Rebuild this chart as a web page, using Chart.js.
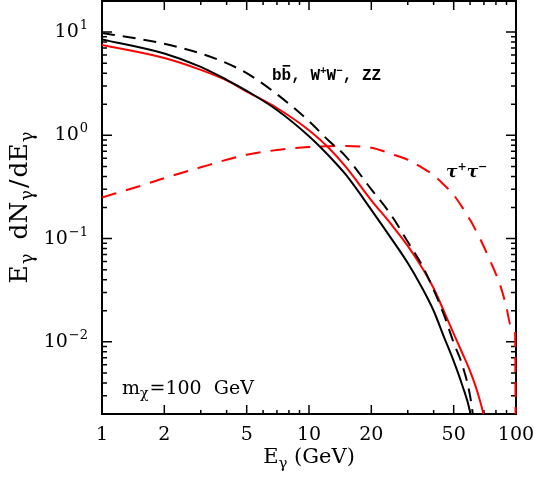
<!DOCTYPE html>
<html>
<head>
<meta charset="utf-8">
<script src="https://cdn.jsdelivr.net/npm/chart.js@4.4.1/dist/chart.umd.min.js"></script>
<style>
  html, body { margin: 0; padding: 0; background: #fff; }
</style>
</head>
<body>
<canvas id="myChart" width="534" height="478"></canvas>
<script>
const ctx = document.getElementById('myChart').getContext('2d');

// photon spectra E dN/dE for m_chi = 100 GeV
const bbE  = [1, 2, 3, 4, 5, 7, 10, 12.5, 15, 20, 25, 30, 35, 40, 45, 50, 55, 60, 63];
const bbN  = [8.5, 6.2, 4.6, 3.45, 2.7, 1.76, 0.98, 0.63, 0.42, 0.19, 0.1, 0.058, 0.034, 0.02, 0.011, 0.0065, 0.0038, 0.0021, 0.0011];

const wwE  = [1, 1.5, 2, 3, 4, 5, 7, 10, 12.5, 15, 20, 25, 30, 35, 40, 45, 50, 55, 60, 64];
const wwN  = [9.8, 8.6, 7.7, 6.2, 5.0, 4.0, 2.5, 1.37, 0.88, 0.63, 0.3, 0.168, 0.093, 0.056, 0.032, 0.018, 0.0098, 0.006, 0.003, 0.0012];

const zzE  = [1, 2, 3, 4, 5, 7, 10, 12.5, 15, 20, 25, 30, 35, 40, 45, 50, 55, 60, 65, 70, 73];
const zzN  = [7.5, 5.6, 4.3, 3.4, 2.65, 1.84, 1.12, 0.75, 0.5, 0.235, 0.137, 0.085, 0.053, 0.033, 0.0195, 0.012, 0.0078, 0.0052, 0.0033, 0.0019, 0.0012];

const tauE = [1, 1.5, 2, 3, 4, 5, 7, 10, 14, 20, 25, 30, 35, 40, 45, 50, 56, 60, 67, 75, 84, 90, 94, 99, 100];
const tauN = [0.25, 0.32, 0.385, 0.49, 0.58, 0.65, 0.72, 0.77, 0.79, 0.76, 0.66, 0.58, 0.49, 0.41, 0.33, 0.265, 0.19, 0.152, 0.10, 0.061, 0.035, 0.0215, 0.0148, 0.0122, 0.0001];

// axis ticks
const xMajor = [1, 2, 5, 10, 20, 50, 100];
const xTickLabels = ['1', '2', '5', '10', '20', '50', '100'];
const xMinor = [3, 4, 6, 7, 8, 9, 30, 40, 60, 70, 80, 90];
const yMajor = [0.01, 0.1, 1, 10];
const yTickExp = ['\u22122', '\u22121', '0', '1'];
const yMinor = [0.002, 0.003, 0.004, 0.005, 0.006, 0.007, 0.008, 0.009,
                0.02, 0.03, 0.04, 0.05, 0.06, 0.07, 0.08, 0.09,
                0.2, 0.3, 0.4, 0.5, 0.6, 0.7, 0.8, 0.9,
                2, 3, 4, 5, 6, 7, 8, 9, 20];

const pts = (xs, ys) => xs.map((v, i) => ({x: v, y: ys[i]}));

const serif = '"DejaVu Serif"';
const mono = '"Liberation Mono"';

function drawRuns(c, parts, x, y, align) {
  let w = 0;
  parts.forEach(p => {
    c.font = p.font;
    p.w = c.measureText(p.t).width + (p.gap || 0);
    w += p.w;
  });
  let cx = align === 'center' ? x - w / 2 : align === 'right' ? x - w : x;
  const start = cx;
  parts.forEach(p => {
    c.font = p.font;
    c.fillText(p.t, cx, y + (p.dy || 0));
    p.x = cx;
    cx += p.w;
  });
  return start;
}

// frame with inward ticks, tick labels and titles
const frame = {
  id: 'frame',
  beforeDatasetsDraw(chart) {
    const {ctx: c, chartArea: a, scales: {x, y}} = chart;
    c.save();
    c.strokeStyle = '#000';
    c.fillStyle = '#000';
    c.lineWidth = 2;
    c.strokeRect(a.left, a.top, a.right - a.left, a.bottom - a.top);

    c.lineWidth = 1.5;
    c.beginPath();
    xMajor.concat(xMinor).forEach(v => {
      const px = x.getPixelForValue(v);
      const len = xMajor.includes(v) ? 9 : 4;
      c.moveTo(px, a.bottom); c.lineTo(px, a.bottom - len);
      c.moveTo(px, a.top); c.lineTo(px, a.top + len);
    });
    yMajor.concat(yMinor).forEach(v => {
      const py = y.getPixelForValue(v);
      const len = yMajor.includes(v) ? 10 : 5;
      c.moveTo(a.left, py); c.lineTo(a.left + len, py);
      c.moveTo(a.right, py); c.lineTo(a.right - len, py);
    });
    c.stroke();

    // tick labels
    c.textBaseline = 'alphabetic';
    c.textAlign = 'left';
    xMajor.forEach((v, i) => {
      drawRuns(c, [{t: xTickLabels[i], font: '19px ' + serif}], x.getPixelForValue(v), a.bottom + 26, 'center');
    });
    yMajor.forEach((v, i) => {
      const py = y.getPixelForValue(v);
      drawRuns(c, [
        {t: '10', font: '19px ' + serif, gap: 1},
        {t: yTickExp[i], font: '13px ' + serif, dy: -8}
      ], 88, py + 5, 'right');
    });

    // axis titles
    drawRuns(c, [
      {t: 'E', font: '21px ' + serif},
      {t: '\u03b3', font: '15px ' + serif, dy: 5},
      {t: ' (GeV)', font: '21px ' + serif}
    ], (a.left + a.right) / 2, a.bottom + 49, 'center');

    c.save();
    c.translate(27, (a.top + a.bottom) / 2);
    c.rotate(-Math.PI / 2);
    drawRuns(c, [
      {t: 'E', font: '25px ' + serif, gap: 1},
      {t: '\u03b3', font: '18px ' + serif, dy: 6, gap: 14},
      {t: 'dN', font: '25px ' + serif, gap: 1},
      {t: '\u03b3', font: '18px ' + serif, dy: 6, gap: 2},
      {t: '/', font: '25px ' + serif, gap: 2},
      {t: 'dE', font: '25px ' + serif, gap: 1},
      {t: '\u03b3', font: '18px ' + serif, dy: 6}
    ], 0, 0, 'center');
    c.restore();

    // annotations
    const bold = 'bold 16px ' + mono;
    const sup = 'bold 11px ' + mono;
    const parts = [
      {t: 'b', font: bold},
      {t: 'b', font: bold},
      {t: ', W', font: bold},
      {t: '+', font: sup, dy: -6},
      {t: 'W', font: bold},
      {t: '\u2212', font: sup, dy: -6},
      {t: ', ZZ', font: bold}
    ];
    drawRuns(c, parts, 272, 80, 'left');
    c.fillRect(parts[1].x + 1, 65, parts[1].w - 2, 1.6);

    drawRuns(c, [
      {t: '\u03c4', font: 'bold italic 17px ' + serif},
      {t: '+', font: 'bold 11px ' + serif, dy: -7},
      {t: '\u03c4', font: 'bold italic 17px ' + serif},
      {t: '\u2212', font: 'bold 11px ' + serif, dy: -7}
    ], 446, 177, 'left');

    drawRuns(c, [
      {t: 'm', font: '19px ' + serif},
      {t: '\u03c7', font: '14px ' + serif, dy: 4, gap: 1},
      {t: '=100  GeV', font: '19px ' + serif}
    ], 122, 394, 'left');

    c.restore();
  }
};

const data = {
  datasets: [
    {
      label: 'b b\u0304',
      data: pts(bbE, bbN),
      borderColor: '#000',
      borderWidth: 2
    },
    {
      label: 'W+W\u2212',
      data: pts(wwE, wwN),
      borderColor: '#000',
      borderWidth: 2,
      borderDash: [13, 8]
    },
    {
      label: 'ZZ',
      data: pts(zzE, zzN),
      borderColor: '#ff0000',
      borderWidth: 2
    },
    {
      label: '\u03c4+\u03c4\u2212',
      data: pts(tauE, tauN),
      borderColor: '#ff0000',
      borderWidth: 2,
      borderDash: [15, 10],
      clip: {left: 0, top: 0, right: 3, bottom: 0}
    }
  ]
};

const config = {
  type: 'line',
  data: data,
  options: {
    responsive: false,
    animation: false,
    layout: { padding: { left: 102, right: 18, top: 1, bottom: 64 } },
    elements: {
      point: { radius: 0, hoverRadius: 0 },
      line: { cubicInterpolationMode: 'monotone', fill: false }
    },
    datasets: { line: { clip: 0 } },
    plugins: {
      legend: { display: false },
      tooltip: { enabled: false }
    },
    scales: {
      x: { type: 'logarithmic', min: 1, max: 100, display: false },
      y: { type: 'logarithmic', min: 0.002, max: 20, display: false }
    }
  },
  plugins: [frame]
};

const myChart = new Chart(ctx, config);
</script>
</body>
</html>
